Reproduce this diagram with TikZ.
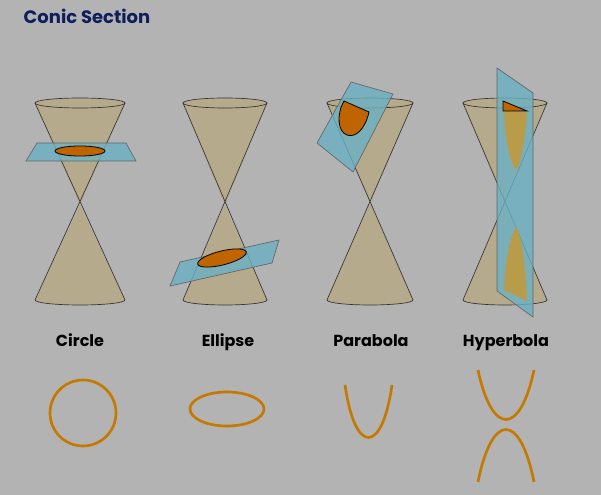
\documentclass[tikz,border=0pt]{standalone}
\usepackage{fontspec}
\setmainfont{Poppins}
\begin{document}
\begin{tikzpicture}[x=0.75pt,y=-0.75pt,
  cone/.style={fill=conec,draw=black!80,line width=0.5pt},
  plane/.style={fill=planec,fill opacity=0.8,draw=black!60,line width=0.5pt},
  sect/.style={fill=orangec,draw=black,line width=0.6pt},
  curve/.style={draw=curvec,line width=2pt},
  lbl/.style={anchor=base,font=\bfseries\fontsize{12}{14}\selectfont}]
\definecolor{bg}{HTML}{B3B3B3}
\definecolor{conec}{HTML}{B5AB8C}
\definecolor{planec}{HTML}{6AB0C4}
\definecolor{orangec}{HTML}{C06400}
\definecolor{curvec}{HTML}{C47A00}
\definecolor{fadec}{HTML}{C8982E}
\definecolor{navy}{HTML}{0F1F5A}
\fill[bg] (0,0) rectangle (601,495);
\useasboundingbox (0,0) rectangle (601,495);
\node[anchor=west,text=navy,font=\bfseries\fontsize{13.5}{15}\selectfont] (title) at (19,16) {Conic Section};
\newcommand{\conedraw}[4]{%
  \fill[conec] (#1-#2,#3) -- (#1,#4) -- (#1+#2,#3) -- cycle;
  \fill[conec] (#1,#4) -- (#1-#2,300) -- (#1+#2,300) -- cycle;
  \fill[conec] (#1,300) ellipse ({#2} and 5);
  \draw[black!80,line width=0.5pt] (#1-#2,#3) -- (#1+#2,300) (#1+#2,#3) -- (#1-#2,300);
  \draw[black!80,line width=0.5pt] (#1-#2,300) arc[start angle=180,end angle=360,x radius=#2,y radius=-5];
  \draw[cone] (#1,#3) ellipse ({#2} and 5);
}
% circle
\conedraw{80}{45}{103}{205}
\draw[plane] (26,161) -- (37,143) -- (126,143) -- (136,161) -- cycle;
\draw[sect] (80,151) ellipse (25 and 5);
% ellipse
\conedraw{225}{42}{103}{205}
\draw[plane] (170,286) -- (180,262) -- (279,240) -- (272,263) -- cycle;
\draw[sect,rotate around={14:(222,258)}] (222,258) ellipse (25 and 7);
% parabola
\conedraw{370}{43}{103}{203}
\draw[plane] (351,82) -- (393,94) -- (353,172) -- (317,143) -- cycle;
\draw[sect] (344,101) -- (369,112) .. controls (365,130) and (355,138) .. (347,135) .. controls (338,132) and (336,115) .. (344,101) -- cycle;
% hyperbola
\conedraw{505}{42}{103}{203}
\draw[plane] (497,68) -- (533,93) -- (533,317) -- (497,291) -- cycle;
\fill[fadec,opacity=0.8] (504,111) .. controls (505,140) and (510,165) .. (517,170) .. controls (522,160) and (526,130) .. (527,112) -- cycle;
\fill[fadec,opacity=0.8] (517,227) .. controls (510,235) and (505,260) .. (504,290) -- (527,301) .. controls (526,270) and (522,240) .. (517,227) -- cycle;
\draw[sect] (503,101) -- (527,111) -- (503,111) -- cycle;
% labels
\node[lbl] (l1) at (80,347) {Circle};
\node[lbl] (l2) at (228,347) {Ellipse};
\node[lbl] (l3) at (371,347) {Parabola};
\node[lbl] (l4) at (506,347) {Hyperbola};
% curves
\draw[curve] (83,413) circle (33);
\draw[curve] (227,409) ellipse (37 and 17);
\draw[curve] (345,385) .. controls (355,455) and (382,455) .. (392,385);
\draw[curve] (478,370) .. controls (492,436) and (520,436) .. (534,370);
\draw[curve] (478,482) .. controls (492,412) and (520,412) .. (534,482);
\end{tikzpicture}
\end{document}
